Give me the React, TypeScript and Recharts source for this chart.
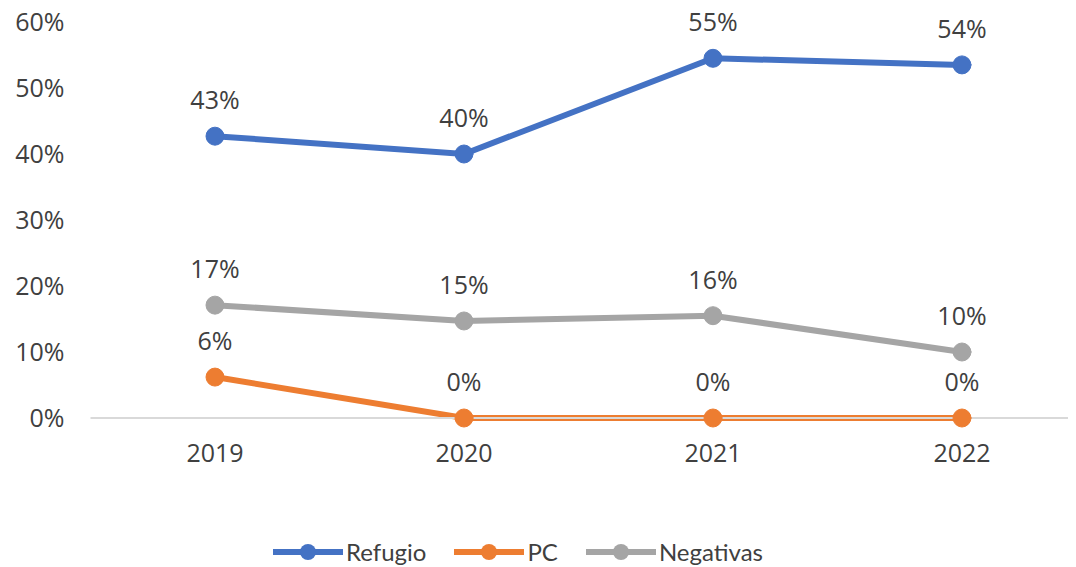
import React from 'react';
import { LineChart, Line, XAxis, YAxis, Legend, LabelList } from 'recharts';

const categories = ['2019', '2020', '2021', '2022'];
const refugio = [0.427, 0.40, 0.545, 0.535];
const pc = [0.062, 0, 0, 0];
const negativas = [0.171, 0.147, 0.155, 0.10];
const yTicks = [0, 0.1, 0.2, 0.3, 0.4, 0.5, 0.6];

const data = categories.map((c, i) => ({
  year: c,
  Refugio: refugio[i],
  PC: pc[i],
  Negativas: negativas[i],
}));

const series = [
  { key: 'Refugio', color: '#4472C4' },
  { key: 'PC', color: '#ED7D31' },
  { key: 'Negativas', color: '#A5A5A5' },
];

const TEXT = '#404040';
const FONT = '"Open Sans", sans-serif';

const pct = (v: number) => `${Math.round(v * 100)}%`;

const DataLabel = (props: any) => {
  const { x, y, value } = props;
  return (
    <text x={x} y={y - 37} textAnchor="middle" dominantBaseline="central" fill={TEXT} fontSize={25} fontFamily={FONT}>
      {pct(value)}
    </text>
  );
};

const LegendContent = () => (
  <div style={{ display: 'flex', alignItems: 'center', fontFamily: '"Lato", sans-serif', fontSize: 24, color: TEXT }}>
    {series.map((s, i) => (
      <div key={s.key} style={{ display: 'flex', alignItems: 'center', marginRight: i < series.length - 1 ? 28 : 0 }}>
        <svg width={70} height={20} style={{ marginRight: 3 }}>
          <line x1={0} y1={10} x2={70} y2={10} stroke={s.color} strokeWidth={6} strokeLinecap="round" />
          <circle cx={35} cy={10} r={8} fill={s.color} />
        </svg>
        <span>{s.key}</span>
      </div>
    ))}
  </div>
);

export default function App() {
  return (
    <div style={{ marginTop: -8 }}>
      <LineChart
        width={1100}
        height={568}
        data={data}
        margin={{ top: 22, right: 21.5, left: 0, bottom: 70 }}
      >
        <XAxis
          dataKey="year"
          tickLine={false}
          axisLine={{ stroke: '#D9D9D9', strokeWidth: 2 }}
          tick={{ fill: TEXT, fontSize: 25, fontFamily: FONT }}
          tickSize={0}
          tickMargin={26}
          height={40}
          padding={{ left: 124.5, right: 124.5 }}
        />
        <YAxis
          domain={[0, 0.6]}
          ticks={yTicks}
          tickFormatter={pct}
          axisLine={false}
          tickLine={false}
          tickSize={0}
          tickMargin={26}
          width={82.5}
          tick={{ fill: TEXT, fontSize: 25, fontFamily: FONT }}
          interval={0}
        />
        <Legend
          verticalAlign="bottom"
          height={40}
          content={<LegendContent />}
          wrapperStyle={{ position: 'absolute', top: 537, left: 265, width: 'auto' }}
        />
        {series.map((s) => (
          <Line
            key={s.key}
            dataKey={s.key}
            stroke={s.color}
            strokeWidth={6}
            dot={{ r: 9, fill: s.color, stroke: s.color, strokeWidth: 1 }}
            activeDot={false}
            isAnimationActive={false}
            strokeLinecap="round"
          >
            <LabelList dataKey={s.key} content={<DataLabel />} />
          </Line>
        ))}
      </LineChart>
    </div>
  );
}
